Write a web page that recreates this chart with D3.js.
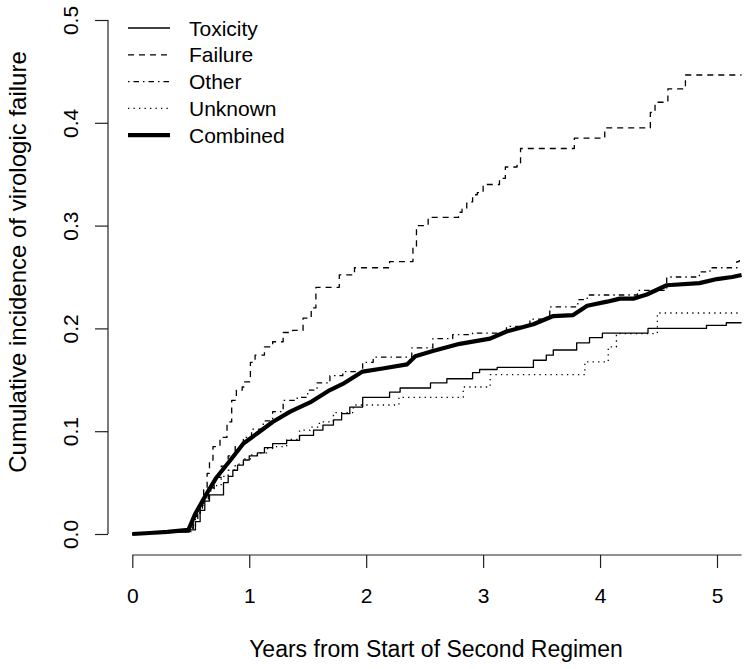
<!DOCTYPE html>
<html>
<head>
<meta charset="utf-8">
<script src="https://cdn.jsdelivr.net/npm/d3@7"></script>
<style>
  html, body { margin: 0; padding: 0; background: #fff; }
  svg { display: block; }
  text { font-family: "Liberation Sans", Arial, Helvetica, sans-serif; fill: #000; }
</style>
</head>
<body>
<svg id="chart" width="751" height="669"></svg>
<script>
// ---------- data ----------
const xTicks = [0, 1, 2, 3, 4, 5];
const yTicks = [0, 0.1, 0.2, 0.3, 0.4, 0.5];
const seriesNames = ["Toxicity", "Failure", "Other", "Unknown", "Combined"];

const toxicityT = [0, 0.15, 0.30, 0.49, 0.54, 0.58, 0.62, 0.66, 0.78, 0.82, 0.86, 0.90, 0.95, 1.00, 1.07, 1.13, 1.20, 1.32, 1.43, 1.55, 1.63, 1.72, 1.79, 1.86, 1.97, 2.20, 2.29, 2.55, 2.69, 2.91, 2.97, 3.12, 3.43, 3.54, 3.60, 3.80, 3.91, 4.02, 4.41, 4.91, 5.08, 5.21];
const toxicityV = [0, 0.001, 0.002, 0.004, 0.012, 0.023, 0.032, 0.038, 0.050, 0.056, 0.062, 0.067, 0.072, 0.076, 0.079, 0.084, 0.088, 0.091, 0.096, 0.101, 0.106, 0.111, 0.117, 0.1235, 0.133, 0.138, 0.142, 0.147, 0.151, 0.157, 0.160, 0.162, 0.169, 0.174, 0.179, 0.186, 0.191, 0.1955, 0.200, 0.203, 0.2055, 0.2055];

const failureT = [0, 0.15, 0.30, 0.48, 0.52, 0.58, 0.61, 0.64, 0.66, 0.69, 0.75, 0.81, 0.85, 0.89, 0.94, 0.96, 1.01, 1.05, 1.13, 1.20, 1.29, 1.37, 1.46, 1.53, 1.57, 1.77, 1.90, 2.20, 2.40, 2.43, 2.53, 2.79, 2.82, 2.86, 2.91, 2.95, 3.00, 3.14, 3.19, 3.29, 3.32, 3.78, 4.04, 4.43, 4.47, 4.58, 4.73, 5.21];
const failureV = [0, 0.001, 0.002, 0.004, 0.017, 0.030, 0.043, 0.059, 0.072, 0.085, 0.094, 0.109, 0.130, 0.140, 0.143, 0.148, 0.167, 0.174, 0.182, 0.187, 0.196, 0.198, 0.210, 0.220, 0.240, 0.252, 0.259, 0.265, 0.280, 0.300, 0.308, 0.313, 0.316, 0.323, 0.330, 0.332, 0.340, 0.346, 0.357, 0.361, 0.375, 0.385, 0.395, 0.410, 0.420, 0.433, 0.4465, 0.4465];

const otherT = [0, 0.15, 0.30, 0.48, 0.52, 0.56, 0.60, 0.65, 0.70, 0.76, 0.82, 0.88, 0.95, 1.02, 1.12, 1.20, 1.29, 1.41, 1.50, 1.58, 1.69, 1.80, 1.97, 2.06, 2.39, 2.57, 2.74, 2.91, 3.20, 3.40, 3.57, 3.81, 3.89, 4.32, 4.57, 4.85, 4.94, 5.17, 5.19, 5.21];
const otherV = [0, 0.001, 0.002, 0.004, 0.012, 0.024, 0.034, 0.045, 0.055, 0.066, 0.076, 0.085, 0.094, 0.102, 0.110, 0.119, 0.130, 0.133, 0.140, 0.147, 0.154, 0.158, 0.167, 0.172, 0.181, 0.190, 0.194, 0.1955, 0.202, 0.209, 0.221, 0.228, 0.2325, 0.237, 0.250, 0.255, 0.259, 0.265, 0.268, 0.268];

const unknownT = [0, 0.15, 0.30, 0.50, 0.54, 0.58, 0.62, 0.66, 0.70, 0.76, 0.82, 0.88, 0.95, 1.02, 1.08, 1.15, 1.20, 1.32, 1.43, 1.52, 1.60, 1.72, 1.89, 2.28, 2.83, 3.06, 3.87, 4.07, 4.14, 4.49, 5.21];
const unknownV = [0, 0.001, 0.002, 0.006, 0.018, 0.028, 0.036, 0.042, 0.047, 0.056, 0.062, 0.068, 0.073, 0.077, 0.079, 0.083, 0.085, 0.092, 0.101, 0.104, 0.109, 0.118, 0.1255, 0.133, 0.143, 0.155, 0.1675, 0.182, 0.195, 0.215, 0.215];

const combinedT = [0, 0.15, 0.30, 0.48, 0.54, 0.64, 0.72, 0.84, 0.95, 1.07, 1.20, 1.35, 1.52, 1.69, 1.80, 1.97, 2.14, 2.35, 2.42, 2.57, 2.80, 3.06, 3.20, 3.43, 3.60, 3.77, 3.89, 4.06, 4.17, 4.29, 4.40, 4.57, 4.85, 5.00, 5.13, 5.21];
const combinedV = [0, 0.001, 0.002, 0.004, 0.020, 0.040, 0.055, 0.072, 0.088, 0.098, 0.109, 0.119, 0.128, 0.140, 0.146, 0.158, 0.161, 0.165, 0.173, 0.178, 0.185, 0.190, 0.197, 0.204, 0.212, 0.213, 0.222, 0.226, 0.229, 0.229, 0.233, 0.242, 0.244, 0.248, 0.250, 0.252];

// ---------- styles ----------
const styles = {
  Toxicity: { width: 1.3, dash: null, curve: d3.curveStepAfter },
  Failure:  { width: 1.3, dash: "6,5", curve: d3.curveStepAfter },
  Other:    { width: 1.3, dash: "1.5,4,5.5,4", curve: d3.curveStepAfter },
  Unknown:  { width: 1.3, dash: "1.3,4.2", curve: d3.curveStepAfter },
  Combined: { width: 4.2, dash: null, curve: d3.curveLinear }
};
const seriesData = {
  Toxicity: d3.zip(toxicityT, toxicityV),
  Failure: d3.zip(failureT, failureV),
  Other: d3.zip(otherT, otherV),
  Unknown: d3.zip(unknownT, unknownV),
  Combined: d3.zip(combinedT, combinedV)
};

const svg = d3.select("#chart");
const x = d3.scaleLinear().domain([0, 5]).range([132.3, 717]);
const y = d3.scaleLinear().domain([0, 0.5]).range([534, 20]);
const axisLeftX = 108;
const axisBottomY = 555;

// curves
["Unknown", "Other", "Toxicity", "Failure", "Combined"].forEach(name => {
  const s = styles[name];
  const line = d3.line().x(d => x(d[0])).y(d => y(d[1])).curve(s.curve);
  svg.append("path")
    .datum(seriesData[name])
    .attr("d", line)
    .attr("fill", "none")
    .attr("stroke", "#000")
    .attr("stroke-width", s.width)
    .attr("stroke-linejoin", "round")
    .attr("stroke-dasharray", s.dash);
});

// x axis
const gx = svg.append("g").attr("transform", `translate(0,${axisBottomY})`)
  .call(d3.axisBottom(x).tickValues(xTicks).tickFormat(d3.format("d")).tickSize(13).tickSizeOuter(0).tickPadding(20));
gx.select(".domain").attr("d", `M${x(0)},0H${x(5.21)}`).attr("stroke", "#222").attr("stroke-width", 1.2);
gx.selectAll(".tick line").attr("stroke", "#222").attr("stroke-width", 1.2);
gx.selectAll(".tick text").attr("font-size", 21).attr("font-family", "Liberation Sans, Arial, sans-serif").attr("fill", "#000");

// y axis
const gy = svg.append("g").attr("transform", `translate(${axisLeftX},0)`)
  .call(d3.axisLeft(y).tickValues(yTicks).tickFormat(d3.format(".1f")).tickSize(13).tickSizeOuter(0));
gy.select(".domain").attr("d", `M0,${y(0)}V${y(0.5)}`).attr("stroke", "#222").attr("stroke-width", 1.2);
gy.selectAll(".tick line").attr("stroke", "#222").attr("stroke-width", 1.2);
gy.selectAll(".tick text")
  .attr("x", null).attr("dy", null)
  .attr("transform", "translate(-30,0) rotate(-90)")
  .attr("text-anchor", "middle")
  .attr("font-size", 21).attr("font-family", "Liberation Sans, Arial, sans-serif").attr("fill", "#000");

// axis titles
svg.append("text")
  .attr("x", 436).attr("y", 657)
  .attr("text-anchor", "middle")
  .attr("font-size", 23)
  .text("Years from Start of Second Regimen");
svg.append("text")
  .attr("transform", "translate(26,262) rotate(-90)")
  .attr("text-anchor", "middle")
  .attr("font-size", 24)
  .text("Cumulative incidence of virologic failure");

// legend
const legend = svg.append("g");
seriesNames.forEach((name, i) => {
  const yy = 28 + i * 26.8;
  const s = styles[name];
  legend.append("line")
    .attr("x1", 128).attr("x2", 170).attr("y1", yy).attr("y2", yy)
    .attr("stroke", "#000").attr("stroke-width", s.width)
    .attr("stroke-dasharray", s.dash);
  legend.append("text")
    .attr("x", 189).attr("y", yy).attr("dy", "0.36em")
    .attr("font-size", 21)
    .text(name);
});
</script>
</body>
</html>
